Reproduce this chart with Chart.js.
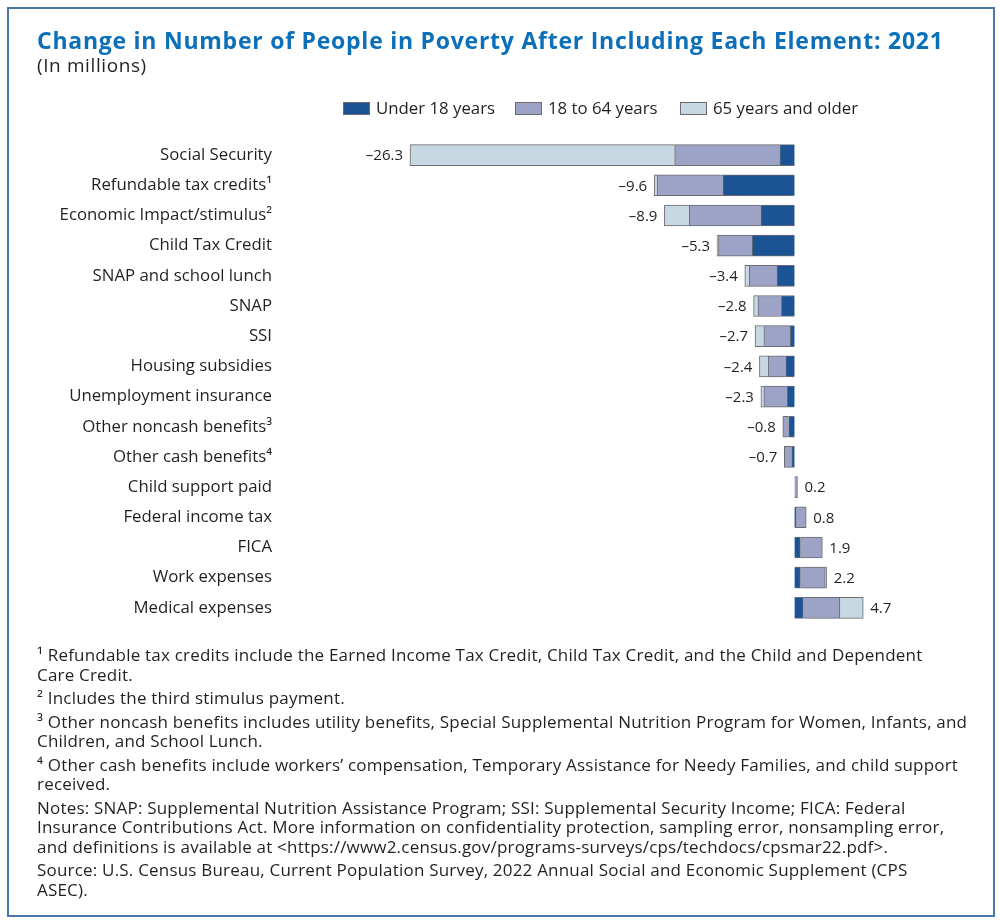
<!DOCTYPE html>
<html>
<head>
<meta charset="utf-8">
<script src="https://cdn.jsdelivr.net/npm/chart.js@4.4.1/dist/chart.umd.min.js"></script>
<style>
  body { margin: 0; background: #fff; font-family: "Open Sans", sans-serif; color: #231f20; }
  #frame { position: absolute; left: 7px; top: 7px; width: 988px; height: 910px; border: 2px solid #4a78ad; box-sizing: border-box; }
  #title { position: absolute; left: 37px; top: 24px; font-size: 23px; letter-spacing: 0.75px; font-weight: 700; color: #0b6fba; white-space: nowrap; }
  #subtitle { position: absolute; left: 37px; top: 52px; font-size: 19px; letter-spacing: 0.6px; white-space: nowrap; }
  #povertyChart { position: absolute; left: 0; top: 0; }
  #notes { position: absolute; left: 37px; top: 645px; font-size: 17px; letter-spacing: 0.2px; line-height: 19.5px; white-space: nowrap; }
  #notes p { margin: 0 0 4px 0; }
</style>
</head>
<body>
<div id="frame"></div>
<canvas id="povertyChart" width="1000" height="673"></canvas>
<div id="title">Change in Number of People in Poverty After Including Each Element: 2021</div>
<div id="subtitle">(In millions)</div>
<div id="notes">
  <p>¹ Refundable tax credits include the Earned Income Tax Credit, Child Tax Credit, and the Child and Dependent<br>Care Credit.</p>
  <p>² Includes the third stimulus payment.</p>
  <p>³ Other noncash benefits includes utility benefits, Special Supplemental Nutrition Program for Women, Infants, and<br>Children, and School Lunch.</p>
  <p>⁴ Other cash benefits include workers’ compensation, Temporary Assistance for Needy Families, and child support<br>received.</p>
  <p>Notes: SNAP: Supplemental Nutrition Assistance Program; SSI: Supplemental Security Income; FICA: Federal<br>Insurance Contributions Act. More information on confidentiality protection, sampling error, nonsampling error,<br>and definitions is available at &lt;https://www2.census.gov/programs-surveys/cps/techdocs/cpsmar22.pdf&gt;.</p>
  <p>Source: U.S. Census Bureau, Current Population Survey, 2022 Annual Social and Economic Supplement (CPS<br>ASEC).</p>
</div>
<script>
const categories = [
  'Social Security', 'Refundable tax credits¹', 'Economic Impact/stimulus²', 'Child Tax Credit',
  'SNAP and school lunch', 'SNAP', 'SSI', 'Housing subsidies', 'Unemployment insurance',
  'Other noncash benefits³', 'Other cash benefits⁴', 'Child support paid', 'Federal income tax',
  'FICA', 'Work expenses', 'Medical expenses'
];
// segments (millions)
const under18 = [-1.0, -4.9, -2.3, -2.9, -1.2, -0.9, -0.3, -0.6, -0.5, -0.4, -0.2, 0, 0.1, 0.4, 0.4, 0.6];
const age18to64 = [-7.2, -4.5, -4.9, -2.3, -1.9, -1.6, -1.8, -1.2, -1.6, -0.4, -0.5, 0.2, 0.7, 1.5, 1.7, 2.5];
const age65plus = [-18.1, -0.2, -1.7, -0.1, -0.3, -0.3, -0.6, -0.6, -0.2, 0, 0, 0, 0, 0, 0.1, 1.6];
const totalLabels = ['–26.3', '–9.6', '–8.9', '–5.3', '–3.4', '–2.8', '–2.7', '–2.4', '–2.3', '–0.8', '–0.7', '0.2', '0.8', '1.9', '2.2', '4.7'];
const seriesNames = ['Under 18 years', '18 to 64 years', '65 years and older'];

const FONT = '"Open Sans", sans-serif';
const TEXT = '#231f20';

// legend + value labels at bar ends
const extrasPlugin = {
  id: 'extras',
  afterDatasetsDraw(chart) {
    const ctx = chart.ctx;
    const x = chart.scales.x, y = chart.scales.y;
    ctx.save();
    ctx.font = '15px ' + FONT;
    ctx.fillStyle = TEXT;
    ctx.textBaseline = 'middle';
    categories.forEach((c, i) => {
      const vals = [under18[i], age18to64[i], age65plus[i]];
      const neg = vals.filter(v => v < 0).reduce((a, b) => a + b, 0);
      const pos = vals.filter(v => v > 0).reduce((a, b) => a + b, 0);
      const yy = y.getPixelForValue(i);
      if (neg < 0) {
        ctx.textAlign = 'right';
        ctx.fillText(totalLabels[i], x.getPixelForValue(neg) - 7, yy + 1);
      } else {
        ctx.textAlign = 'left';
        ctx.fillText(totalLabels[i], x.getPixelForValue(pos) + 7, yy + 1);
      }
    });
    // legend
    const legendX = [343, 515, 680];
    ctx.font = '16.8px ' + FONT;
    ctx.textAlign = 'left';
    chart.data.datasets.forEach((ds, k) => {
      ctx.fillStyle = ds.backgroundColor;
      ctx.fillRect(legendX[k], 102, 27, 13);
      ctx.strokeStyle = '#6b6b70';
      ctx.lineWidth = 1;
      ctx.strokeRect(legendX[k] + 0.5, 102.5, 26, 12);
      ctx.fillStyle = TEXT;
      ctx.fillText(ds.label, legendX[k] + 33, 109);
    });
    ctx.restore();
  }
};

const canvas = document.getElementById('povertyChart');
new Chart(canvas.getContext('2d'), {
  type: 'bar',
  data: {
    labels: categories,
    datasets: [
      { label: seriesNames[0], data: under18, backgroundColor: '#1b5394' },
      { label: seriesNames[1], data: age18to64, backgroundColor: '#9da3c7' },
      { label: seriesNames[2], data: age65plus, backgroundColor: '#c8d8e2' }
    ].map(d => Object.assign(d, { borderColor: '#6b6b70', borderWidth: 1, barThickness: 21 }))
  },
  options: {
    indexAxis: 'y',
    responsive: false,
    animation: false,
    layout: { padding: { top: 140, bottom: 18, left: 0, right: 30 } },
    plugins: { legend: { display: false }, tooltip: { enabled: false } },
    scales: {
      x: { stacked: true, display: false, min: -33, max: 12 },
      y: {
        stacked: true,
        grid: { display: false, drawTicks: false },
        border: { display: false },
        ticks: { color: TEXT, padding: 40, font: { family: FONT, size: 16.8 } },
        afterFit(scale) { scale.width = 312; }
      }
    }
  },
  plugins: [extrasPlugin]
});
</script>
</body>
</html>
